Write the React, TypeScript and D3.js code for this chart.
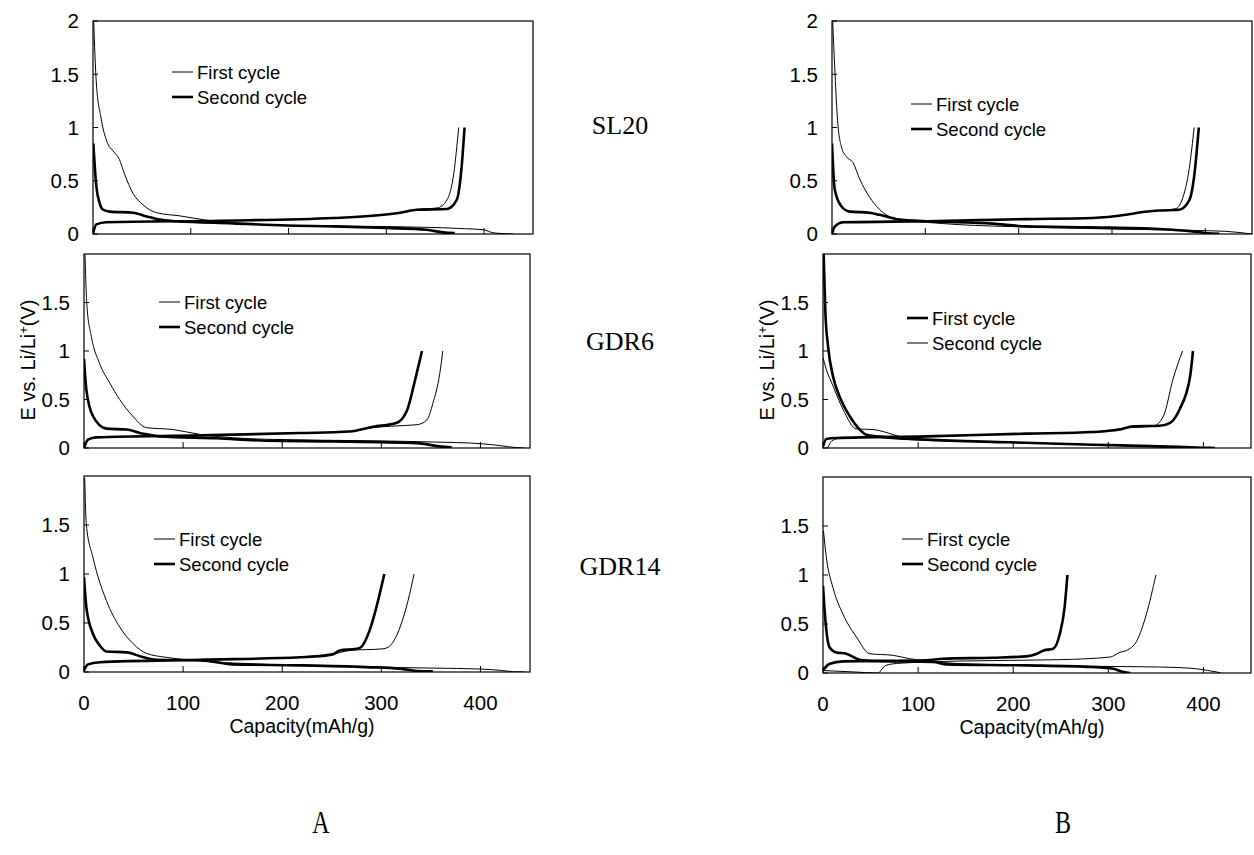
import React from "react";
import * as d3 from "d3";

// ---------- tick values ----------
const capacityTicks = [0, 100, 200, 300, 400];
const voltageTicksTop = [0, 0.5, 1, 1.5, 2];
const voltageTicks = [0, 0.5, 1, 1.5];
const sampleLabels = ["SL20", "GDR6", "GDR14"];
const columnLabels = ["A", "B"];
const legendNames = ["First cycle", "Second cycle"];

type Pt = [number, number];

// ---------- column A ----------
// SL20
const aSL20FirstDis: Pt[] = [[0.7, 2.0], [3.4, 1.42], [8, 1.1], [15, 0.85], [20.5, 0.78], [27, 0.7], [32, 0.57], [41, 0.38], [51, 0.275], [65, 0.2], [89, 0.17], [116, 0.13], [150, 0.1], [200, 0.08], [300, 0.07], [380, 0.05], [399, 0.04], [410, 0.01], [430, 0.0]];
const aSL20FirstCha: Pt[] = [[0, 0.0], [3.4, 0.09], [13.6, 0.11], [130, 0.125], [246, 0.15], [297, 0.18], [314, 0.2], [331, 0.23], [352, 0.245], [362, 0.32], [369, 0.57], [374, 1.0]];
const aSL20SecondDis: Pt[] = [[0.3, 0.85], [3.4, 0.45], [6.8, 0.29], [10, 0.23], [17, 0.21], [41, 0.2], [55, 0.165], [68, 0.135], [85, 0.12], [143, 0.1], [198, 0.08], [246, 0.072], [300, 0.056], [341, 0.04], [358, 0.015], [370, 0.008]];
const aSL20SecondCha: Pt[] = [[0, 0.0], [3.4, 0.09], [13.6, 0.11], [130, 0.125], [246, 0.15], [297, 0.18], [314, 0.2], [331, 0.228], [362, 0.235], [372, 0.32], [377, 0.63], [380, 1.0]];
// GDR6
const aGDR6FirstDis: Pt[] = [[1, 1.99], [3, 1.46], [7.4, 1.15], [15.8, 0.87], [26, 0.67], [36, 0.5], [49, 0.33], [63, 0.21], [90, 0.19], [117, 0.14], [184, 0.09], [285, 0.075], [352, 0.062], [400, 0.045], [420, 0.024], [433, 0.007], [445, 0.0]];
const aGDR6FirstCha: Pt[] = [[0, 0.0], [4, 0.086], [12.5, 0.11], [117, 0.13], [218, 0.154], [268, 0.17], [292, 0.21], [310, 0.225], [336, 0.24], [346, 0.29], [352, 0.46], [359, 0.77], [362, 1.0]];
const aGDR6SecondDis: Pt[] = [[0, 0.92], [2.4, 0.6], [9, 0.33], [22.5, 0.2], [43, 0.19], [60, 0.147], [76, 0.12], [134, 0.1], [184, 0.075], [251, 0.068], [336, 0.05], [359, 0.017], [371, 0.008]];
const aGDR6SecondCha: Pt[] = [[0, 0.0], [4, 0.086], [12.5, 0.11], [117, 0.13], [218, 0.154], [268, 0.17], [292, 0.22], [315, 0.257], [326, 0.39], [334, 0.7], [341, 1.0]];
// GDR14
const aGDR14FirstDis: Pt[] = [[0.7, 1.98], [2.4, 1.5], [9, 1.17], [22.5, 0.73], [36, 0.46], [49.5, 0.29], [63, 0.19], [83, 0.15], [103, 0.125], [184, 0.078], [285, 0.05], [352, 0.04], [400, 0.03], [420, 0.017], [433, 0.003], [445, 0.0]];
const aGDR14FirstCha: Pt[] = [[0, 0.015], [4, 0.078], [16, 0.1], [117, 0.125], [218, 0.15], [251, 0.18], [268, 0.22], [302, 0.237], [309, 0.27], [319, 0.46], [327, 0.73], [333, 1.0]];
const aGDR14SecondDis: Pt[] = [[0, 0.97], [2.4, 0.66], [9, 0.39], [16, 0.27], [22.5, 0.21], [43, 0.2], [60, 0.15], [73, 0.125], [117, 0.12], [150, 0.078], [218, 0.068], [285, 0.05], [319, 0.034], [336, 0.01], [352, 0.006]];
const aGDR14SecondCha: Pt[] = [[0, 0.015], [4, 0.078], [16, 0.1], [117, 0.125], [218, 0.15], [251, 0.18], [258, 0.22], [275, 0.237], [279, 0.25], [288, 0.42], [295, 0.66], [303, 1.0]];

// ---------- column B ----------
// SL20
const bSL20FirstDis: Pt[] = [[0.7, 2.0], [2.9, 1.57], [5.7, 1.1], [10, 0.82], [15, 0.73], [22.5, 0.67], [30, 0.51], [40, 0.35], [51, 0.23], [65, 0.15], [83, 0.125], [101, 0.11], [136, 0.088], [208, 0.066], [297, 0.047], [386, 0.034], [422, 0.025], [450, 0.0]];
const bSL20FirstCha: Pt[] = [[0, 0.0], [2.9, 0.07], [12, 0.11], [101, 0.12], [208, 0.14], [279, 0.15], [315, 0.18], [333, 0.206], [350, 0.22], [368, 0.237], [375, 0.32], [383, 0.63], [388, 1.0]];
const bSL20SecondDis: Pt[] = [[0, 0.85], [2.9, 0.42], [10, 0.26], [19, 0.21], [40, 0.2], [51, 0.18], [72, 0.135], [101, 0.12], [172, 0.097], [208, 0.072], [279, 0.0625], [350, 0.047], [386, 0.025], [400, 0.01], [415, 0.003]];
const bSL20SecondCha: Pt[] = [[0, 0.0], [2.9, 0.07], [12, 0.11], [101, 0.12], [208, 0.14], [279, 0.15], [315, 0.18], [333, 0.206], [350, 0.22], [372, 0.228], [383, 0.32], [388, 0.54], [393, 1.0]];
// GDR6
const bGDR6FirstDis: Pt[] = [[0.7, 2.0], [2.5, 1.4], [5.3, 1.05], [10.5, 0.74], [17.5, 0.53], [28, 0.33], [38.6, 0.19], [45.6, 0.138], [56, 0.12], [109, 0.086], [196, 0.059], [284, 0.034], [354, 0.017], [400, 0.003], [412, 0.0]];
const bGDR6FirstCha: Pt[] = [[0, 0.017], [3.5, 0.093], [14, 0.103], [109, 0.12], [214, 0.148], [284, 0.165], [312, 0.19], [326, 0.224], [354, 0.23], [365, 0.26], [375, 0.4], [386, 0.74], [389, 1.0]];
const bGDR6SecondDis: Pt[] = [[0, 0.93], [3.5, 0.81], [10.5, 0.64], [21, 0.4], [35, 0.197], [52.6, 0.19], [74, 0.138], [91, 0.086], [144, 0.069], [214, 0.052], [284, 0.034], [337, 0.017], [354, 0.01], [375, 0.0]];
const bGDR6SecondCha: Pt[] = [[5, 0.0], [9, 0.07], [16, 0.097], [109, 0.12], [214, 0.148], [284, 0.165], [319, 0.207], [347, 0.224], [358, 0.33], [368, 0.71], [378, 1.0]];
// GDR14
const bGDR14FirstDis: Pt[] = [[0.5, 1.45], [3.5, 1.18], [10.5, 0.87], [21, 0.6], [35, 0.37], [49, 0.197], [74, 0.18], [91, 0.146], [109, 0.122], [144, 0.095], [214, 0.078], [284, 0.068], [354, 0.061], [389, 0.047], [404, 0.027], [418, 0.003]];
const bGDR14FirstCha: Pt[] = [[0, 0.025], [30, 0.012], [58, 0.0], [62, 0.04], [66, 0.078], [81, 0.1], [144, 0.122], [249, 0.136], [302, 0.163], [312, 0.21], [319, 0.23], [330, 0.33], [340, 0.6], [350, 1.0]];
const bGDR14SecondDis: Pt[] = [[0, 0.89], [2.5, 0.54], [7, 0.26], [14, 0.21], [24.5, 0.197], [38.6, 0.136], [56, 0.122], [116, 0.112], [130, 0.088], [214, 0.078], [284, 0.061], [305, 0.044], [316, 0.01], [323, 0.0]];
const bGDR14SecondCha: Pt[] = [[0, 0.027], [7, 0.095], [21, 0.119], [109, 0.129], [126, 0.146], [179, 0.156], [214, 0.17], [225, 0.197], [232, 0.23], [242, 0.247], [249, 0.4], [254, 0.67], [257, 1.0]];

const capacityDomain: [number, number] = [0, 450];
const voltageDomain: [number, number] = [0, 2];

interface PanelSpec {
  key: string;
  box: { x0: number; x1: number; y0: number; y1: number };
  first: Pt[][];
  second: Pt[][];
  firstThick: boolean;
  yTicks: number[];
  xLabels: boolean;
  yTitle: boolean;
  legend: { x: number; y: number };
}

const panels: PanelSpec[] = [
  { key: "aSL20", box: { x0: 93, x1: 533, y0: 21, y1: 234 }, first: [aSL20FirstDis, aSL20FirstCha], second: [aSL20SecondDis, aSL20SecondCha], firstThick: false, yTicks: voltageTicksTop, xLabels: false, yTitle: false, legend: { x: 172, y: 72 } },
  { key: "aGDR6", box: { x0: 84, x1: 530, y0: 254, y1: 448 }, first: [aGDR6FirstDis, aGDR6FirstCha], second: [aGDR6SecondDis, aGDR6SecondCha], firstThick: false, yTicks: voltageTicks, xLabels: false, yTitle: true, legend: { x: 159, y: 302 } },
  { key: "aGDR14", box: { x0: 84, x1: 530, y0: 476, y1: 672 }, first: [aGDR14FirstDis, aGDR14FirstCha], second: [aGDR14SecondDis, aGDR14SecondCha], firstThick: false, yTicks: voltageTicks, xLabels: true, yTitle: false, legend: { x: 154, y: 539 } },
  { key: "bSL20", box: { x0: 832, x1: 1252, y0: 21, y1: 234 }, first: [bSL20FirstDis, bSL20FirstCha], second: [bSL20SecondDis, bSL20SecondCha], firstThick: false, yTicks: voltageTicksTop, xLabels: false, yTitle: false, legend: { x: 911, y: 104 } },
  { key: "bGDR6", box: { x0: 823, x1: 1251, y0: 254, y1: 448 }, first: [bGDR6FirstDis, bGDR6FirstCha], second: [bGDR6SecondDis, bGDR6SecondCha], firstThick: true, yTicks: voltageTicks, xLabels: false, yTitle: true, legend: { x: 907, y: 318 } },
  { key: "bGDR14", box: { x0: 823, x1: 1251, y0: 477, y1: 673 }, first: [bGDR14FirstDis, bGDR14FirstCha], second: [bGDR14SecondDis, bGDR14SecondCha], firstThick: false, yTicks: voltageTicks, xLabels: true, yTitle: false, legend: { x: 902, y: 539 } },
];

const SANS = "'Liberation Sans', Arial, sans-serif";
const SERIF = "'Liberation Serif', 'Times New Roman', serif";
const THIN = 1;
const THICK = 2.6;

function Panel({ p }: { p: PanelSpec }) {
  const { x0, x1, y0, y1 } = p.box;
  const x = d3.scaleLinear().domain(capacityDomain).range([x0, x1]);
  const y = d3.scaleLinear().domain(voltageDomain).range([y1, y0]);
  const line = d3
    .line<Pt>()
    .x((d) => x(d[0]))
    .y((d) => y(d[1]))
    .curve(d3.curveMonotoneX);
  const clipId = `clip-${p.key}`;
  const wFirst = p.firstThick ? THICK : THIN;
  const wSecond = p.firstThick ? THIN : THICK;
  const fmt = (v: number) => String(v);
  return (
    <g>
      <defs>
        <clipPath id={clipId}>
          <rect x={x0} y={y0 - 2} width={x1 - x0} height={y1 - y0 + 2} />
        </clipPath>
      </defs>
      <rect x={x0} y={y0} width={x1 - x0} height={y1 - y0} fill="none" stroke="#000" strokeWidth={1.2} />
      {capacityTicks.map((t) => (
        <line key={"xt" + t} x1={x(t)} x2={x(t)} y1={y1} y2={y1 - 6} stroke="#000" strokeWidth={1} />
      ))}
      {p.yTicks.map((t) => (
        <line key={"yt" + t} x1={x0} x2={x0 + 5} y1={y(t)} y2={y(t)} stroke="#000" strokeWidth={1} />
      ))}
      {p.yTicks.map((t) => (
        <text key={"yl" + t} x={x0 - 14} y={y(t)} dy="0.36em" textAnchor="end" fontFamily={SANS} fontSize={20.5}>
          {fmt(t)}
        </text>
      ))}
      {p.xLabels &&
        capacityTicks.map((t) => (
          <text key={"xl" + t} x={x(t)} y={y1 + 38} textAnchor="middle" fontFamily={SANS} fontSize={20.5}>
            {fmt(t)}
          </text>
        ))}
      {p.xLabels && (
        <text x={(x(0) + x(450)) / 2 - 5} y={y1 + 61} textAnchor="middle" fontFamily={SANS} fontSize={19.5}>
          Capacity(mAh/g)
        </text>
      )}
      {p.yTitle && (
        <text
          transform={`translate(${x0 - 49},${(y0 + y1) / 2 + 9}) rotate(-90)`}
          textAnchor="middle"
          fontFamily={SANS}
          fontSize={20}
        >
          E vs. Li/Li
          <tspan dy="-7" fontSize={13}>+</tspan>
          <tspan dy="7">(V)</tspan>
        </text>
      )}
      <g clipPath={`url(#${clipId})`} fill="none" stroke="#000" strokeLinejoin="round">
        {p.first.map((s, i) => (
          <path key={"f" + i} d={line(s) || ""} strokeWidth={wFirst} />
        ))}
        {p.second.map((s, i) => (
          <path key={"s" + i} d={line(s) || ""} strokeWidth={wSecond} />
        ))}
      </g>
      {legendNames.map((name, i) => {
        const ly = p.legend.y + i * 25;
        const w = i === 0 ? wFirst : wSecond;
        return (
          <g key={name}>
            <line x1={p.legend.x} x2={p.legend.x + 21} y1={ly} y2={ly} stroke="#000" strokeWidth={w} />
            <text x={p.legend.x + 25} y={ly} dy="0.36em" fontFamily={SANS} fontSize={18.5}>
              {name}
            </text>
          </g>
        );
      })}
    </g>
  );
}

export default function App() {
  const labelYs = [125, 341, 566];
  return (
    <svg
      width={1254}
      height={855}
      viewBox="0 0 1254 855"
      style={{ position: "absolute", left: 0, top: 0, background: "#fff" }}
    >
      <rect x={0} y={0} width={1254} height={855} fill="#fff" />
      {panels.map((p) => (
        <Panel key={p.key} p={p} />
      ))}
      {sampleLabels.map((s, i) => (
        <text key={s} x={620} y={labelYs[i]} dy="0.35em" textAnchor="middle" fontFamily={SERIF} fontSize={26}>
          {s}
        </text>
      ))}
      {columnLabels.map((s, i) => (
        <text
          key={s}
          transform={`translate(${i === 0 ? 321 : 1063},${833}) scale(0.75,1)`}
          textAnchor="middle"
          fontFamily={SERIF}
          fontSize={32}
        >
          {s}
        </text>
      ))}
    </svg>
  );
}
